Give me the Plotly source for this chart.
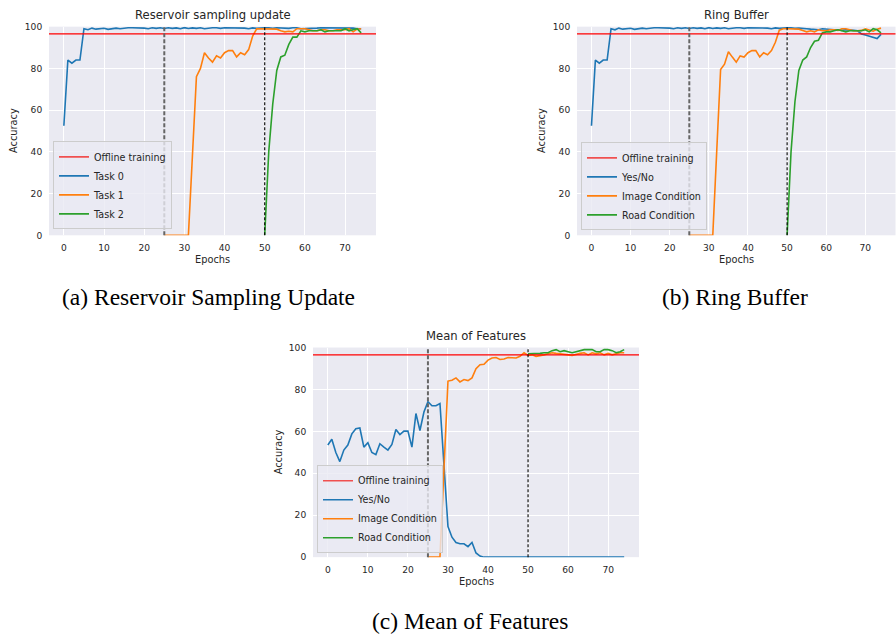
import plotly.graph_objects as go

# ---------------- data ----------------
epochs = list(range(75))
epochs_t1 = list(range(25, 75))
epochs_t2 = list(range(50, 75))
offline_acc = 96.5
task_boundaries = [25, 50]
x_ticks = [0, 10, 20, 30, 40, 50, 60, 70]
y_ticks = [0, 20, 40, 60, 80, 100]

# (a) Reservoir sampling update
a_task0 = [52.5, 84, 82.5, 84, 84, 99, 98.5, 99.3, 98.8, 99,
           99.2, 98.7, 99, 99.3, 99, 99.4, 99.5, 99.5, 99.5, 99.5,
           99.3, 99, 99.5, 99.2, 99.5, 99.1, 99.5, 99.2, 99.4, 99,
           99.5, 99.1, 99.4, 99.2, 99.5, 99, 99.3, 99.5, 99.5, 99.2,
           99.5, 99.5, 99.5, 99.2, 99.5, 99.3, 99, 99.4, 99.2, 99.5,
           99.5, 99.5, 99.2, 99.5, 99.4, 99.5, 99.2, 99.5, 99.5, 99,
           99, 99.3, 99, 99.3, 99.5, 99.5, 99.5, 99.5, 99.5, 99.5,
           99.3, 99.3, 99.3, 99, 99]
a_task1 = [0, 0, 0, 0, 0, 0, 0,
           38, 76, 80, 87.5, 85, 83, 86, 85, 87.5, 88.5,
           88.5, 85.5, 87.5, 86.5, 89, 95.5, 99, 99, 99, 99,
           99, 98.8, 98, 97.5, 97.8, 97.5, 99, 99, 99, 98.5,
           98, 98, 98.5, 98.5, 98, 98, 98.5, 98.5, 98.5, 99,
           97.5, 98.8, 99]
a_task2 = [0, 40, 63, 79, 85.5, 86.3, 91.5, 95, 95, 98,
           97.5, 98, 98, 98, 98.5, 97.5, 98, 98, 98, 98,
           99, 98, 98.5, 99, 97]

# (b) Ring Buffer
b_yesno = [52.5, 84, 82.5, 84, 84, 99, 98.5, 99.3, 98.8, 99,
           99.2, 98.7, 99, 99.3, 99, 99.4, 99.5, 99.5, 99.5, 99.5,
           99.3, 99, 99.5, 99.2, 99.5, 99.1, 99.5, 99.2, 99.4, 99,
           99.5, 99.1, 99.4, 99.2, 99.5, 99, 99.3, 99.5, 99.5, 99.2,
           99.5, 99.5, 99.5, 99.2, 99.5, 99.3, 99, 99.4, 99.2, 99.5,
           99.5, 99.5, 99.2, 99.3, 99, 99, 98.8, 98.8, 98.5, 99,
           98.8, 98.5, 98.5, 98.5, 98.2, 98.5, 98.5, 98.2, 98, 96.5,
           96, 95.5, 95, 94.3, 96.3]
b_image = [0, 0, 0, 0, 0, 0, 0,
           40, 79.5, 82, 88, 85.4, 83, 86, 85.4, 87.5, 88.5,
           88.5, 85.5, 87.5, 86.5, 88.5, 92.5, 98.3, 99, 99, 99,
           99, 98.8, 98.2, 97.5, 98, 97.5, 98.5, 98, 98, 98.5,
           98.5, 98.2, 99, 99, 98.5, 98, 98, 98.2, 99, 98.5,
           97.8, 98.8, 99.3]
b_road = [0, 40, 64, 79, 84, 85.5, 90, 93, 93.5, 97,
          97.5, 97.5, 98, 98.5, 98, 97.5, 98, 98, 98, 98,
          98.5, 97.5, 99, 98.5, 97]

# (c) Mean of Features
c_yesno = [53.5, 56.2, 49.9, 45.6, 51.1, 53.5, 58.8, 61.3, 61.6, 52.5,
           54.6, 49.9, 48.9, 54.1, 52.5, 51.1, 53.8, 60.9, 58.5, 60.1,
           60.1, 52.5, 68.5, 60.4, 69.2, 74.2, 72.2, 72.2, 73.3, 44,
           14.6, 9.5, 7, 6.4, 6.4, 5, 7, 2, 0.5, 0,
           0, 0, 0, 0, 0, 0, 0, 0, 0, 0,
           0, 0, 0, 0, 0, 0, 0, 0, 0, 0,
           0, 0, 0, 0, 0, 0, 0, 0, 0, 0,
           0, 0, 0, 0, 0]
c_image = [0, 0, 0, 0,
           42, 84, 84.4, 85.5, 83.6, 84.7, 84.2, 85.5, 89.9, 91.8,
           92, 94, 95, 95.2, 94.3, 94.5, 95.2, 95.2, 95, 95.8,
           97.5, 96.2, 96.5, 95.8, 96, 96.5, 97, 97.5, 97.2, 97,
           97, 96.5, 96.2, 96.8, 97.2, 97.5, 96.5, 97.5, 97, 97.5,
           96.5, 97.2, 96.5, 97, 97.5, 97.5]
c_road = [97, 97, 97, 97.2, 97.5, 97.5, 98.5, 99, 98, 98.5,
          98, 97.5, 98, 98.5, 99, 99, 99, 98, 98, 99,
          99, 98.5, 97.5, 98, 99]

# ---------------- styling ----------------
W, H = 896, 634
BLUE, ORANGE, GREEN = "#1f77b4", "#ff7f0e", "#2ca02c"
BG = "#EAEAF2"
TXT = "#262626"
FONT = "DejaVu Sans"
LW = 1.6

def fx(px):
    return px / W

def fy(py):
    return 1 - py / H

panels = [
    dict(ax="", xd=[fx(49), fx(376)], yd=[fy(234), fy(22)],
         title="Reservoir sampling update",
         caption="(a) Reservoir Sampling Update", cap_x=fx(208), cap_y=fy(297),
         leg=(fx(53), fy(228)),
         series=[("Task 0", epochs, a_task0, BLUE),
                 ("Task 1", epochs_t1, a_task1, ORANGE),
                 ("Task 2", epochs_t2, a_task2, GREEN)]),
    dict(ax="2", xd=[fx(577), fx(895.5)], yd=[fy(234), fy(22)],
         title="Ring Buffer",
         caption="(b) Ring Buffer", cap_x=fx(735), cap_y=fy(297),
         leg=(fx(581), fy(229)),
         series=[("Yes/No", epochs, b_yesno, BLUE),
                 ("Image Condition", epochs_t1, b_image, ORANGE),
                 ("Road Condition", epochs_t2, b_road, GREEN)]),
    dict(ax="3", xd=[fx(313), fx(639)], yd=[fy(561), fy(348)],
         title="Mean of Features",
         caption="(c) Mean of Features", cap_x=fx(470), cap_y=fy(626),
         leg=(fx(317), fy(557)),
         series=[("Yes/No", epochs, c_yesno, BLUE),
                 ("Image Condition", epochs_t1, c_image, ORANGE),
                 ("Road Condition", epochs_t2, c_road, GREEN)]),
]

fig = go.Figure()
layout = dict(width=W, height=H, margin=dict(l=0, r=0, t=0, b=0),
              paper_bgcolor="white", plot_bgcolor=BG,
              font=dict(family=FONT, color=TXT, size=10),
              showlegend=True)
annotations = []
shapes = []

for i, p in enumerate(panels):
    s = p["ax"]
    xref, yref = "x" + s, "y" + s
    legname = "legend" + s
    # dummy legend trace for offline-training line
    fig.add_trace(go.Scatter(x=[None], y=[None], mode="lines", name="Offline training",
                             line=dict(color="#f05050", width=LW), xaxis=xref, yaxis=yref,
                             legend=legname, hoverinfo="skip"))
    for name, xs, ys, col in p["series"]:
        fig.add_trace(go.Scatter(x=xs, y=ys, mode="lines", name=name,
                                 line=dict(color=col, width=LW), xaxis=xref, yaxis=yref,
                                 legend=legname))
    axis_common = dict(showgrid=True, gridcolor="white", gridwidth=1.2, zeroline=False,
                       showline=False, ticks="outside", ticklen=4,
                       tickcolor="rgba(0,0,0,0)", tickfont=dict(size=9.1, color=TXT, family=FONT))
    layout["xaxis" + s] = dict(domain=p["xd"], anchor=yref, range=[-3.7, 77.7],
                               tickvals=x_ticks, **axis_common)
    layout["yaxis" + s] = dict(domain=p["yd"], anchor=xref, range=[0, 100],
                               tickvals=y_ticks, **axis_common)
    layout[legname] = dict(x=p["leg"][0], y=p["leg"][1], xanchor="left", yanchor="bottom",
                           bgcolor="rgba(234,234,242,0.8)", bordercolor="#cccccc",
                           borderwidth=1, font=dict(size=9.6, color=TXT, family=FONT),
                           tracegroupgap=0)
    # offline training horizontal line
    shapes.append(dict(type="line", xref=xref + " domain", x0=0, x1=1, yref=yref,
                       y0=offline_acc, y1=offline_acc, line=dict(color="red", width=1.2)))
    # task boundaries
    shapes.append(dict(type="line", xref=xref, x0=task_boundaries[0], x1=task_boundaries[0],
                       yref=yref + " domain", y0=0, y1=1,
                       line=dict(color="#666666", width=2, dash="4px,2px")))
    shapes.append(dict(type="line", xref=xref, x0=task_boundaries[1], x1=task_boundaries[1],
                       yref=yref + " domain", y0=0, y1=1,
                       line=dict(color="black", width=1.1, dash="3px,2px")))
    # title
    annotations.append(dict(text=p["title"], xref=xref + " domain", yref=yref + " domain",
                            x=0.5, y=1, xanchor="center", yanchor="middle", yshift=12,
                            showarrow=False, font=dict(size=11.6, color=TXT, family=FONT)))
    # axis labels
    annotations.append(dict(text="Epochs", xref=xref + " domain", yref=yref + " domain",
                            x=0.5, y=0, xanchor="center", yanchor="middle", yshift=-24,
                            showarrow=False, font=dict(size=9.8, color=TXT, family=FONT)))
    annotations.append(dict(text="Accuracy", xref=xref + " domain", yref=yref + " domain",
                            x=0, y=0.5, xanchor="center", yanchor="middle", xshift=-35,
                            textangle=-90, showarrow=False,
                            font=dict(size=9.8, color=TXT, family=FONT)))
    # caption
    annotations.append(dict(text=p["caption"], xref="paper", yref="paper",
                            x=p["cap_x"], y=p["cap_y"], xanchor="center", yanchor="middle",
                            showarrow=False,
                            font=dict(size=23.5, color="black", family="Liberation Serif")))

layout["annotations"] = annotations
layout["shapes"] = shapes
fig.update_layout(**layout)
fig.write_html("out.html", config={"displayModeBar": False},
               post_script="document.body.style.margin='0';document.body.style.overflow='hidden';")
